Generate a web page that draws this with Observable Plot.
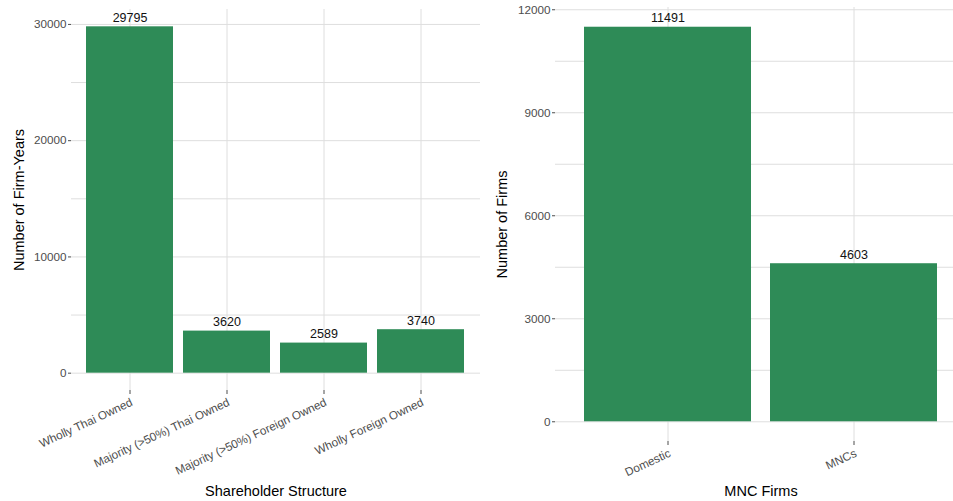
<!DOCTYPE html>
<html>
<head>
<meta charset="utf-8">
<script src="https://cdn.jsdelivr.net/npm/d3@7"></script>
<script src="https://cdn.jsdelivr.net/npm/@observablehq/plot@0.6"></script>
<style>
  body { margin: 0; background: #fff; }
  #wrap { position: relative; width: 953px; height: 501px; overflow: hidden; font-family: "Liberation Sans", Arial, sans-serif; }
  #left, #right { position: absolute; top: 0; }
  #left { left: 0; width: 480px; }
  #right { left: 480px; width: 486px; }
  #wrap svg { max-width: none !important; }
</style>
</head>
<body>
<div id="wrap"><div id="left"></div><div id="right"></div></div>
<script>
// Firm-years by shareholder structure
const structures = ["Wholly Thai Owned", "Majority (>50%) Thai Owned", "Majority (>50%) Foreign Owned", "Wholly Foreign Owned"];
const firmYears = [29795, 3620, 2589, 3740];
const leftTicks = [0, 10000, 20000, 30000];
const leftMinor = [5000, 15000, 25000];

// Firms by MNC status
const mncGroups = ["Domestic", "MNCs"];
const firmCounts = [11491, 4603];
const rightTicks = [0, 3000, 6000, 9000, 12000];
const rightMinor = [1500, 4500, 7500, 10500];

const BAR = "#2e8b57";
const GRID = "#dedede";
const TEXT = "#4d4d4d";

function panel({cats, vals, ticks, minor, xTitle, yTitle, width, marginLeft, marginRight, marginTop, panelBottom, xTitleY, yTitleX}) {
  const height = 501;
  const marginBottom = height - panelBottom;
  const data = cats.map((c, i) => ({cat: c, value: vals[i]}));
  const max = d3.max(vals);
  return Plot.plot({
    width, height, marginLeft, marginRight, marginTop, marginBottom,
    style: {fontFamily: "'Liberation Sans', Arial, sans-serif", background: "transparent"},
    x: {type: "band", domain: cats, paddingInner: 0.1, paddingOuter: 0.15, label: null},
    y: {domain: [-0.05 * max, 1.05 * max], label: null},
    marks: [
      Plot.ruleY(minor, {stroke: GRID, strokeWidth: 1}),
      Plot.ruleY(ticks, {stroke: GRID, strokeWidth: 1}),
      Plot.ruleX(cats, {x: d => d, stroke: GRID, strokeWidth: 1}),
      Plot.barY(data, {x: "cat", y: "value", fill: BAR}),
      Plot.text(data, {x: "cat", y: "value", text: d => String(d.value), dy: -9, fill: "#111", fontSize: 12.5, lineAnchor: "middle"}),
      Plot.axisY({ticks, tickSize: 3, tickPadding: 2, fontSize: 11.7, color: TEXT, tickFormat: d => String(d), label: null}),
      Plot.axisX({tickSize: 4, tickPadding: 3, fontSize: 11.7, color: TEXT, tickRotate: -25, textAnchor: "end", lineAnchor: "top", label: null}),
      // axis titles
      Plot.text([xTitle], {frameAnchor: "bottom", dy: xTitleY - panelBottom, fontSize: 14.5, fill: "#000", lineAnchor: "middle"}),
      Plot.text([yTitle], {frameAnchor: "left", dx: yTitleX - marginLeft, rotate: -90, fontSize: 14.5, fill: "#000", lineAnchor: "middle", textAnchor: "middle"})
    ]
  });
}

document.getElementById("left").appendChild(panel({
  cats: structures, vals: firmYears, ticks: leftTicks, minor: leftMinor,
  xTitle: "Shareholder Structure", yTitle: "Number of Firm-Years",
  width: 480, marginLeft: 71, marginRight: 0, marginTop: 9, panelBottom: 390,
  xTitleY: 491, yTitleX: 19
}));

document.getElementById("right").appendChild(panel({
  cats: mncGroups, vals: firmCounts, ticks: rightTicks, minor: rightMinor,
  xTitle: "MNC Firms", yTitle: "Number of Firms",
  width: 486, marginLeft: 75, marginRight: 0, marginTop: 7, panelBottom: 441,
  xTitleY: 491, yTitleX: 22
}));
</script>
</body>
</html>
